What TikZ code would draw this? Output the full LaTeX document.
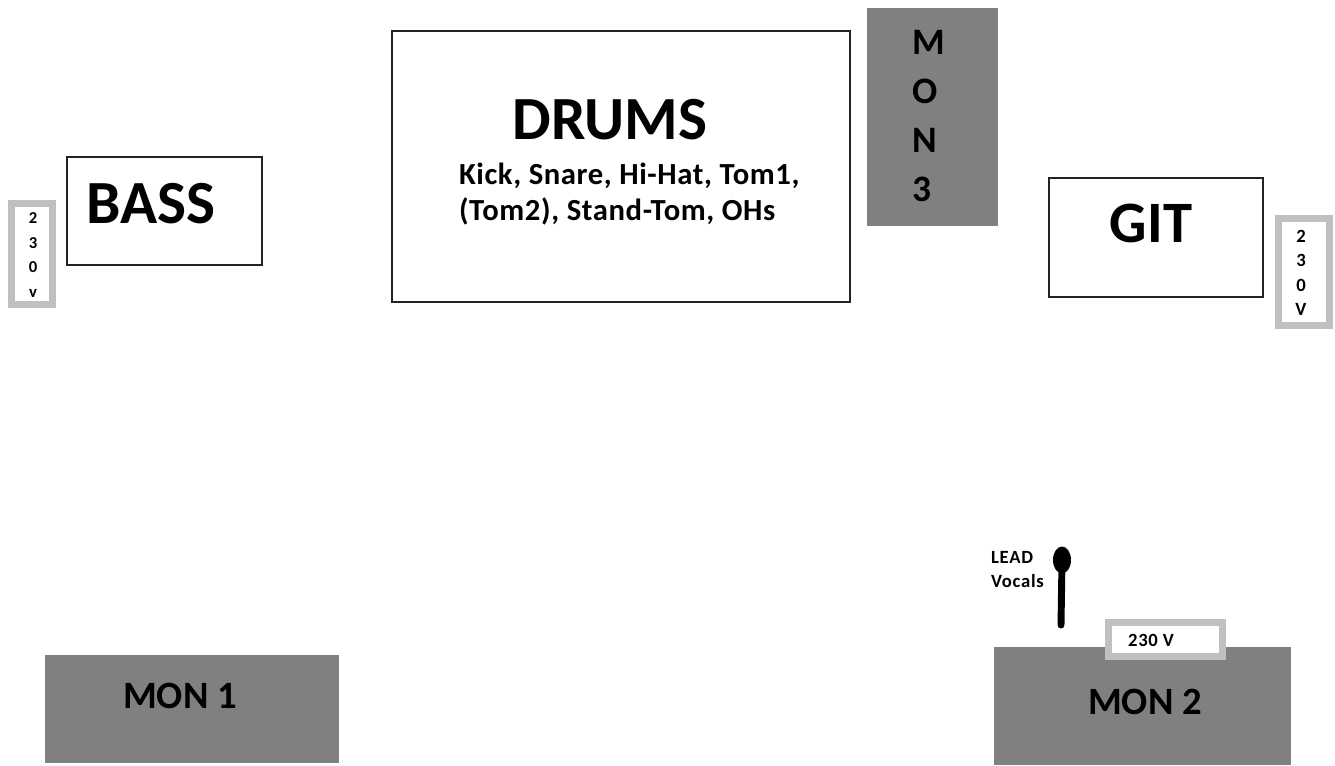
\documentclass[tikz,border=0pt]{standalone}
\usepackage{fontspec}
\setmainfont{Carlito}
\usepackage{tikz}
\usetikzlibrary{shapes.geometric}
\definecolor{mongray}{HTML}{808080}
\definecolor{plugray}{HTML}{C0C0C0}
\definecolor{boxline}{HTML}{222222}

\begin{document}
\begin{tikzpicture}[
  x=0.75pt, y=-0.75pt,
  every node/.style={inner sep=0pt, outer sep=0pt, font=\bfseries},
  box/.style={rectangle, draw=boxline, line width=1.1pt, fill=white},
  mon/.style={rectangle, fill=mongray},
  plug/.style={rectangle, draw=plugray, line width=5.2pt, fill=white},
  bigname/.style={font=\fontsize{46}{50}\selectfont\bfseries},
  monname/.style={font=\fontsize{29}{31}\selectfont\bfseries},
  smalltext/.style={font=\fontsize{14}{18}\selectfont\bfseries\addfontfeature{LetterSpace=4}}
]
\useasboundingbox (0,0) rectangle (1335,765);
% band
\node[box, minimum width=195*0.75pt, minimum height=108*0.75pt] (bass) at (164.5,211) {};
\node[bigname] (basstext) at (151,204) {BASS};
\node[box, minimum width=458*0.75pt, minimum height=271*0.75pt] (drums) at (621,166.5) {};
\node[bigname] (drumstext) at (610,120) {DRUMS};
\node[anchor=west, align=left, font=\fontsize{23}{27}\selectfont\bfseries\addfontfeature{LetterSpace=2}] (kit) at (459,194) {Kick, Snare, Hi-Hat, Tom1,\\(Tom2), Stand-Tom, OHs};
\node[box, minimum width=214*0.75pt, minimum height=119*0.75pt] (git) at (1156,237.5) {};
\node[bigname, font=\fontsize{44}{50}\selectfont\bfseries] (gittext) at (1151,223) {GIT};
% monitors
\node[mon, minimum width=294*0.75pt, minimum height=108*0.75pt] (mon1) at (192,709) {};
\node[monname] (mon1text) at (180,696) {MON 1};
\node[mon, minimum width=297*0.75pt, minimum height=118*0.75pt] (mon2) at (1142.5,706) {};
\node[monname] (mon2text) at (1145,702) {MON 2};
\node[mon, minimum width=131*0.75pt, minimum height=218*0.75pt] (mon3) at (932.5,117) {};
\node[anchor=west, align=left, font=\fontsize{28}{36.8}\selectfont\bfseries] (mon3text) at (912,116) {M\\O\\N\\3};
% power
\node[plug, minimum width=41*0.75pt, minimum height=101*0.75pt] (plugbass) at (32,254) {};
\node[align=center, font=\fontsize{12.5}{18.3}\selectfont\bfseries] (plugbasstext) at (33,255) {2\\3\\0\\v};
\node[plug, minimum width=51*0.75pt, minimum height=107*0.75pt] (pluggit) at (1304,272) {};
\node[align=center, font=\fontsize{14}{18.2}\selectfont\bfseries] (pluggittext) at (1301,273) {2\\3\\0\\V};
\node[plug, minimum width=114*0.75pt, minimum height=34*0.75pt] (plugmon) at (1165.5,639.5) {};
\node[smalltext] (plugmontext) at (1151,640) {230 V};
% vocal mic
\node[ellipse, fill=black, minimum width=18*0.75pt, minimum height=27*0.75pt] (michead) at (1062,560) {};
\coordinate (micfoot) at (1061,625);
\draw[line width=5.2pt, line cap=round] (michead) -- (micfoot);
\node[anchor=west, align=left, smalltext] (lead) at (991,570) {LEAD\\Vocals};
\end{tikzpicture}
\end{document}
